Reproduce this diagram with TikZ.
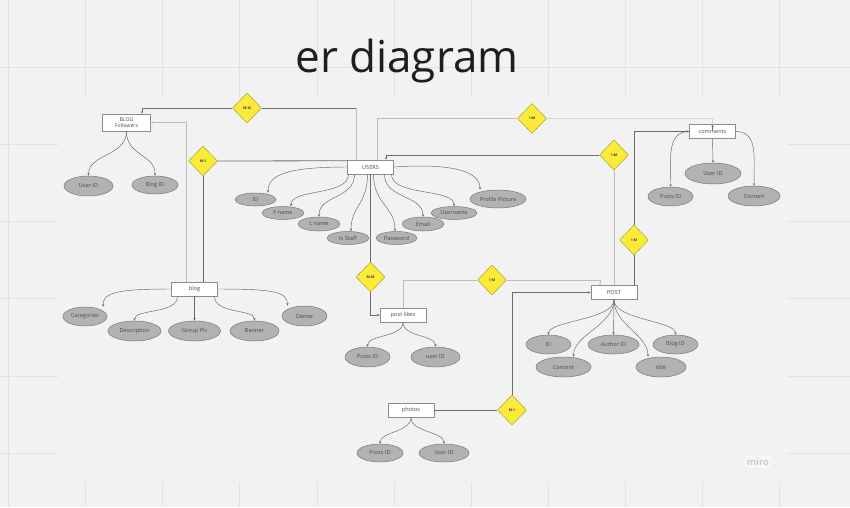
\documentclass[tikz,border=0pt]{standalone}
\usepackage{fontspec}
\setmainfont{Open Sans}
\usetikzlibrary{shapes.geometric,arrows.meta}
\definecolor{bgc}{HTML}{F2F2F2}
\definecolor{gridc}{HTML}{E2E2E2}
\definecolor{attrfill}{HTML}{B2B2B2}
\definecolor{attrdraw}{HTML}{787878}
\definecolor{yel}{HTML}{FAEA3A}
\definecolor{yeldraw}{HTML}{A39524}
\definecolor{darkline}{HTML}{6C6C6C}
\definecolor{lightline}{HTML}{BDBDBD}
\definecolor{faintline}{HTML}{D6D6D6}
\definecolor{txt}{HTML}{4A4A4A}
\definecolor{titlec}{HTML}{1E1E1E}
\begin{document}
\begin{tikzpicture}[x=1pt,y=-1pt,
  >={Stealth[length=2.6pt,width=2.2pt]},
  ent/.style={rectangle, draw=black!45, line width=0.5pt, fill=white, minimum width=46pt, minimum height=14pt, inner sep=0pt, font=\fontsize{5.6}{6.5}\selectfont, text=txt},
  attr/.style={ellipse, draw=attrdraw, line width=0.5pt, fill=attrfill, inner sep=0pt, font=\fontsize{5.6}{6.5}\selectfont, text=txt},
  rel/.style={diamond, draw=yeldraw, line width=0.4pt, fill=yel, minimum width=29pt, minimum height=30pt, inner sep=0pt, font=\bfseries\fontsize{3.6}{4}\selectfont, text=black!75},
  dk/.style={draw=darkline, line width=0.8pt},
  lt/.style={draw=lightline, line width=0.8pt},
  ft/.style={draw=faintline, line width=0.8pt},
  al/.style={draw=black!60, line width=0.45pt, ->},
]
\useasboundingbox (0,0) rectangle (850,507);
\fill[bgc] (0,0) rectangle (850,507);
% grid
\foreach \gx in {8.5,85.6,162.7,239.8,316.9,394,471.1,548.2,625.3,702.4,779.5}
  \draw[gridc, line width=0.7pt] (\gx,0) -- (\gx,507);
\foreach \gy in {67.5,144.6,221.7,298.8,375.9,453}
  \draw[gridc, line width=0.7pt] (0,\gy) -- (850,\gy);
\fill[bgc] (58,97) rectangle (787,482);

% title
\node[font=\fontsize{44}{52}\selectfont, text=titlec, anchor=base, inner sep=0pt] (title) at (407,72) {er diagram};
\node[font=\bfseries\fontsize{9.5}{11}\selectfont, text=black!20, fill=black!3, inner sep=2pt] (miro) at (758,462) {miro};

% entities
\node[ent, minimum width=48pt, minimum height=17pt, align=center, font=\fontsize{5.2}{6.5}\selectfont] (bf) at (126.5,122.5) {BLOG\\Followers};
\node[ent] (users) at (370.5,167) {USERS};
\node[ent] (comments) at (712.5,131.5) {comments};
\node[ent] (blog) at (194.5,289) {blog};
\node[ent] (likes) at (403,315) {post likes};
\node[ent] (post) at (614,292.5) {POST};
\node[ent] (photos) at (411,410) {photos};

% attributes
\node[attr, minimum width=49pt, minimum height=20pt] (bfuid) at (88.5,186) {User ID};
\node[attr, minimum width=46pt, minimum height=18pt] (bfbid) at (155,185) {Blog ID};

\node[attr, minimum width=41pt, minimum height=13pt] (uid) at (255.5,199.5) {ID};
\node[attr, minimum width=42pt, minimum height=13pt] (ufn) at (283,213) {F name};
\node[attr, minimum width=42pt, minimum height=14pt] (uln) at (319,224) {L name};
\node[attr, minimum width=42pt, minimum height=13pt] (ustaff) at (348,238) {Is Staff};
\node[attr, minimum width=41pt, minimum height=13pt] (upw) at (396.5,238) {Password};
\node[attr, minimum width=42pt, minimum height=14pt] (uem) at (423,224) {Email};
\node[attr, minimum width=46pt, minimum height=13pt] (uun) at (454,213) {Username};
\node[attr, minimum width=56pt, minimum height=18pt] (upp) at (498,199) {Profile Picture};

\node[attr, minimum width=56pt, minimum height=21pt] (cuid) at (713,173.5) {User ID};
\node[attr, minimum width=45pt, minimum height=19pt] (cpid) at (670.5,196.5) {Posts ID};
\node[attr, minimum width=52pt, minimum height=20pt] (ccont) at (754,196) {Content};

\node[attr, minimum width=44pt, minimum height=19pt] (bcat) at (85,316.5) {Categories};
\node[attr, minimum width=53pt, minimum height=20pt] (bdesc) at (134.5,331) {Description};
\node[attr, minimum width=52pt, minimum height=20pt] (bgp) at (194.5,331) {Group Pic};
\node[attr, minimum width=49pt, minimum height=20pt] (bban) at (254.5,331) {Banner};
\node[attr, minimum width=45pt, minimum height=20pt] (bown) at (304.5,316) {Owner};

\node[attr, minimum width=45pt, minimum height=20pt] (lpid) at (367.5,357) {Posts ID};
\node[attr, minimum width=49pt, minimum height=20pt] (luid) at (435.5,357) {user ID};

\node[attr, minimum width=45pt, minimum height=19pt] (pid) at (548.5,344.5) {ID};
\node[attr, minimum width=51pt, minimum height=19pt] (paid) at (613.5,344.5) {Author ID};
\node[attr, minimum width=45pt, minimum height=19pt] (pbid) at (675.5,344.5) {Blog ID};
\node[attr, minimum width=55pt, minimum height=20pt] (pcont) at (563.5,367) {Content};
\node[attr, minimum width=50pt, minimum height=20pt] (ptitle) at (661,367) {title};

\node[attr, minimum width=46pt, minimum height=18pt] (phpid) at (380,453) {Posts ID};
\node[attr, minimum width=50pt, minimum height=18pt] (phuid) at (444,453) {User ID};

% relationships
\node[rel] (mm1) at (247,108) {M:M};
\node[rel] (m1a) at (203,161) {M:1};
\node[rel] (om1) at (532,118.5) {1:M};
\node[rel] (om2) at (614,155) {1:M};
\node[rel] (om3) at (634,240) {1:M};
\node[rel] (mm2) at (370.5,277) {M:M};
\node[rel] (om4) at (492,280) {1:M};
\node[rel] (m1b) at (512,410) {M:1};

% relationship connectors
\coordinate (mmturn) at ([xshift=-14.5pt]users.north |- mm1.east);
\draw[lt] ([xshift=-14.5pt]users.north) -- (mmturn);
\draw[dk] (mmturn) -- (mm1.east);
\draw[dk, ->] (mm1.west) -| ([xshift=15.5pt]bf.north);

\draw[dk] ([yshift=-1pt]users.north west) -- (m1a.east);
\draw[dk] (m1a.south) -- ([xshift=8.5pt]blog.north);
\draw[lt, ->] ([xshift=-8.5pt]blog.north) |- (bf.east);

\draw[lt] ([xshift=6.5pt]users.north) |- (om1.west);
\draw[ft] (om1.east) -| ([yshift=-6pt]comments.north);
\draw[dk, ->] ([yshift=-6pt]comments.north) -- (comments.north);

\draw[lt] (post.north) -- (om2.south);
\draw[dk, ->] (om2.west) -| ([xshift=15.5pt]users.north);

\draw[dk] ([xshift=20pt]post.north) -- (om3.south);
\draw[dk, ->] (om3.north) |- (comments.west);

\draw[dk] (users.south) -- (mm2.north);
\draw[dk, ->] (mm2.south) |- (likes.west);

\draw[lt] (likes.north) |- (om4.west);
\draw[lt, ->] (om4.east) -| ([xshift=-14pt]post.north);

\draw[dk] (photos.east) -- (m1b.west);
\draw[dk, ->] (m1b.north) |- (post.west);

% attribute connectors
\draw[al] (bf.south) .. controls +(0,25) and +(0,-22) .. (bfuid.north);
\draw[al] (bf.south) .. controls +(0,25) and +(0,-22) .. (bfbid.north);

\draw[al] (users.west) .. controls +(-60,0) and +(0,-18) .. ([xshift=12.5pt]uid.north);
\draw[al] ([xshift=-22pt]users.south) .. controls +(0,22) and +(0,-18) .. ([xshift=8pt]ufn.north);
\draw[al] ([xshift=-16pt]users.south) .. controls +(0,25) and +(0,-22) .. (uln.north);
\draw[al] ([xshift=-3pt]users.south) .. controls +(0,30) and +(0,-25) .. ([xshift=3pt]ustaff.north);
\draw[al] ([xshift=3pt]users.south) .. controls +(0,30) and +(0,-25) .. ([xshift=-1.5pt]upw.north);
\draw[al] ([xshift=14pt]users.south) .. controls +(0,25) and +(0,-22) .. (uem.north);
\draw[al] ([xshift=21pt]users.south) .. controls +(0,22) and +(0,-18) .. (uun.north);
\draw[al] (users.east) .. controls +(60,-4) and +(0,-18) .. ([xshift=-18pt]upp.north);

\draw[al] (comments.west) .. controls +(-22,0) and +(0,-30) .. (cpid.north);
\draw[al] (comments.south) -- (cuid.north);
\draw[al] (comments.east) .. controls +(22,0) and +(0,-30) .. (ccont.north);

\draw[al] (blog.west) .. controls +(-55,0) and +(0,-14) .. ([xshift=18pt]bcat.north);
\draw[al] ([xshift=-17pt]blog.south) .. controls +(0,18) and +(0,-12) .. (bdesc.north);
\draw[al] (blog.south) -- (bgp.north);
\draw[al] ([xshift=20pt]blog.south) .. controls +(0,18) and +(0,-12) .. (bban.north);
\draw[al] (blog.east) .. controls +(55,0) and +(0,-14) .. ([xshift=-17pt]bown.north);

\draw[al] (likes.south) .. controls +(0,15) and +(0,-12) .. (lpid.north);
\draw[al] (likes.south) .. controls +(0,15) and +(0,-12) .. (luid.north);

\draw[al] (post.south) .. controls +(0,20) and +(0,-14) .. (pid.north);
\draw[al] (post.south) .. controls +(0,25) and +(0,-22) .. ([xshift=10pt]pcont.north);
\draw[al] (post.south) -- (paid.north);
\draw[al] (post.south) .. controls +(0,25) and +(0,-22) .. ([xshift=-13pt]ptitle.north);
\draw[al] (post.south) .. controls +(0,20) and +(0,-14) .. (pbid.north);

\draw[al] (photos.south) .. controls +(0,15) and +(0,-12) .. (phpid.north);
\draw[al] (photos.south) .. controls +(0,15) and +(0,-12) .. (phuid.north);
\end{tikzpicture}
\end{document}
